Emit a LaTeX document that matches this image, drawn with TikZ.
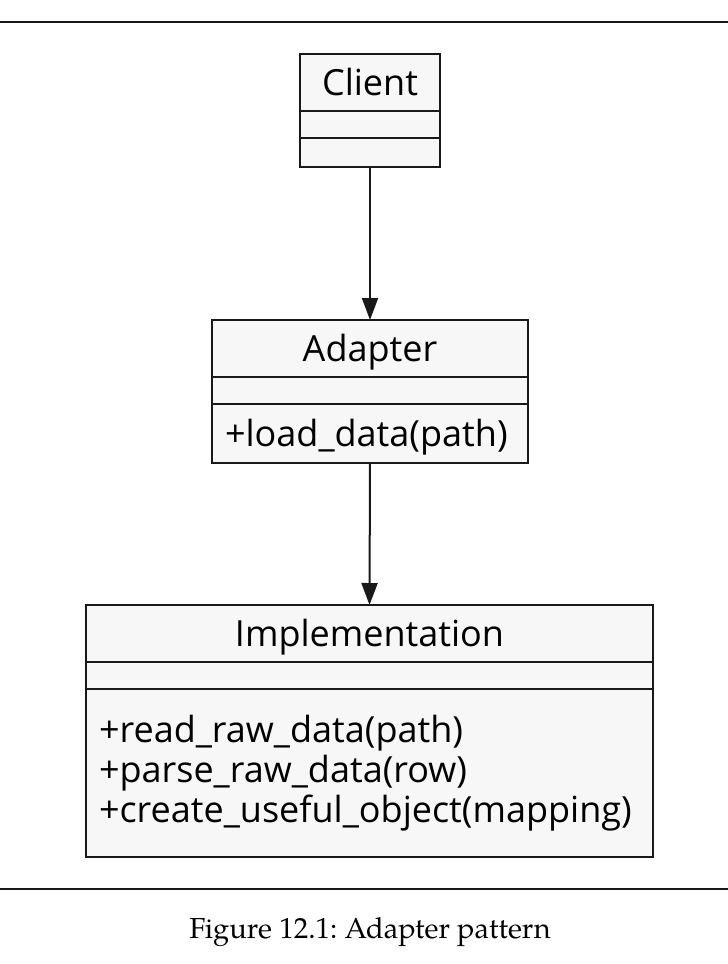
\documentclass[tikz,border=0pt]{standalone}
\usepackage{fontspec}
\setmainfont{Open Sans}
\newfontfamily\captionfont{TeX Gyre Pagella}
\usetikzlibrary{arrows.meta}
\definecolor{boxgray}{RGB}{247,247,247}
\definecolor{boxline}{RGB}{25,25,25}
\hyphenpenalty=10000
\frenchspacing
\tikzset{
  classrow/.style={draw=boxline, fill=boxgray, line width=2.6pt, anchor=north west,
    inner sep=0pt, outer sep=0pt, font=\fontsize{36}{40}\selectfont},
  titlerow/.style={classrow, text height=26pt, text depth=0pt},
  oprow/.style={classrow, align=left, inner xsep=13pt, text width=#1},
  flow/.style={line width=2pt, draw=boxline, -{Triangle[length=22pt,width=16pt]}}
}
\begin{document}
\begin{tikzpicture}[x=1pt,y=-1pt]
\useasboundingbox (0,0) rectangle (728,964);
\draw[line width=2pt, boxline] (0,22) -- (728,22);
%%%% Client
\node[titlerow, minimum width=140pt, minimum height=57pt] (client-name) at (300,54) {Client};
\node[classrow, minimum width=140pt, minimum height=27pt] (client-attr) at (300,111) {};
\node[classrow, minimum width=140pt, minimum height=29pt] (client-ops) at (300,138) {};
%%%% Adapter
\node[titlerow, minimum width=316pt, minimum height=57pt] (adapter-name) at (212,320) {Adapter};
\node[classrow, minimum width=316pt, minimum height=27pt] (adapter-attr) at (212,377) {};
\node[oprow=290pt, minimum height=59pt, text height=26pt, text depth=0pt] (adapter-ops) at (212,404) {+load\_data(path)};
%%%% Implementation
\node[titlerow, minimum width=567pt, minimum height=57pt] (impl-name) at (86,605) {Implementation};
\node[classrow, minimum width=567pt, minimum height=27pt] (impl-attr) at (86,662) {};
\node[oprow=541pt, minimum height=168pt] (impl-ops) at (86,689) {+read\_raw\_data(path)\\+parse\_raw\_data(row)\\+create\_useful\_object(mapping)};
%%%% connectors
\draw[flow] (client-ops.south) -- (adapter-name.north);
\draw[flow] (adapter-ops.south) -- (impl-name.north);
%%%%
\draw[line width=1.4pt, boxline] (0,889) -- (728,889);
\node[font=\captionfont\fontsize{29}{34}\selectfont, anchor=base] (caption) at (370,938) {Figure 12.1: Adapter pattern};
\end{tikzpicture}
\end{document}
